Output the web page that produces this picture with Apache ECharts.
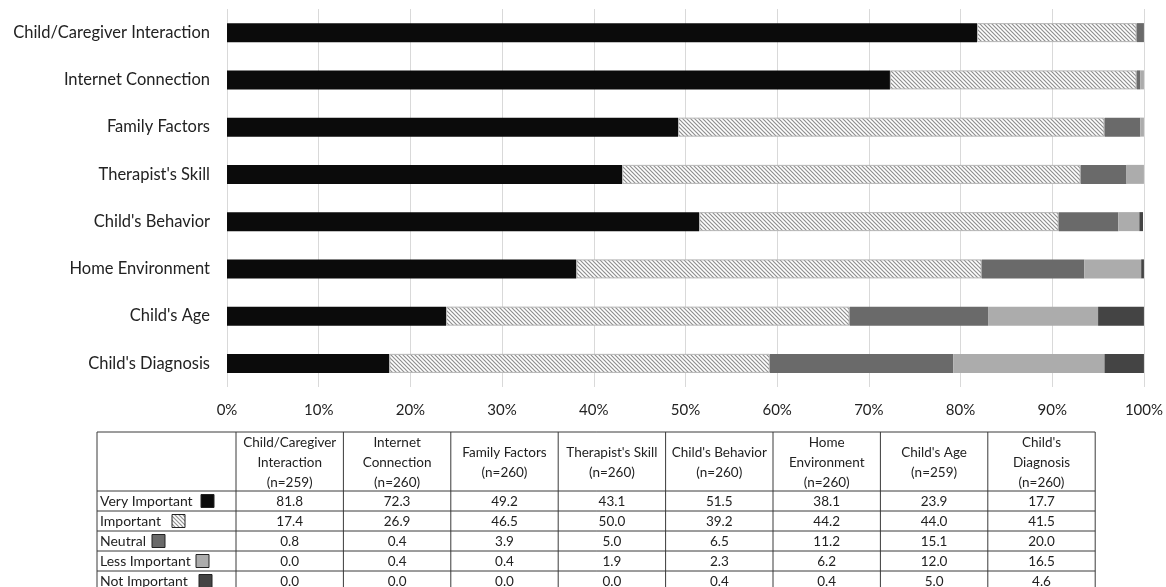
<!DOCTYPE html>
<html>
<head>
<meta charset="utf-8">
<script src="https://cdn.jsdelivr.net/npm/echarts@6/dist/echarts.min.js"></script>
<style>
html,body{margin:0;padding:0;background:#fff;}
#chart{width:1166px;height:587px;}
</style>
</head>
<body>
<div id="chart"></div>
<script>
// ---- data ----
const categories = ["Child/Caregiver Interaction","Internet Connection","Family Factors","Therapist's Skill","Child's Behavior","Home Environment","Child's Age","Child's Diagnosis"];
const tableHeaders = ["Child/Caregiver\nInteraction","Internet\nConnection","Family Factors","Therapist's Skill","Child's Behavior","Home\nEnvironment","Child's Age","Child's\nDiagnosis"];
const sampleSizes = [259,260,260,260,260,260,259,260];
const levels = ["Very Important","Important","Neutral","Less Important","Not Important"];
const veryImportant = [81.8,72.3,49.2,43.1,51.5,38.1,23.9,17.7];
const important     = [17.4,26.9,46.5,50.0,39.2,44.2,44.0,41.5];
const neutral       = [0.8,0.4,3.9,5.0,6.5,11.2,15.1,20.0];
const lessImportant = [0.0,0.4,0.4,1.9,2.3,6.2,12.0,16.5];
const notImportant  = [0.0,0.0,0.0,0.0,0.4,0.4,5.0,4.6];
const xTicks = [0,10,20,30,40,50,60,70,80,90,100];

// ---- styles ----
const FONT = 'Lato, "Open Sans", sans-serif';
function makeHatch(){
  const c = document.createElement('canvas');
  c.width = 4; c.height = 4;
  const g = c.getContext('2d');
  g.fillStyle = '#ffffff'; g.fillRect(0,0,4,4);
  g.strokeStyle = '#8f8f8f'; g.lineWidth = 1.2;
  [[-4,0],[0,0],[4,0]].forEach(([ox,oy])=>{
    g.beginPath(); g.moveTo(ox-1,oy-1); g.lineTo(ox+5,oy+5); g.stroke();
  });
  return c;
}
const hatch = {image: makeHatch(), repeat: 'repeat'};
const fills = ['#0b0b0b', hatch, '#6a6a6a', '#acacac', '#444444'];
const borders = ['#0b0b0b', '#b5b5b5', '#6a6a6a', '#acacac', '#444444'];
const seriesData = [veryImportant, important, neutral, lessImportant, notImportant];

const series = levels.map((name,i)=>({
  name, type:'bar', stack:'total', barWidth: 19,
  data: seriesData[i],
  itemStyle:{color: fills[i], borderColor: borders[i], borderWidth: i===1?1:0},
  emphasis:{disabled:true},
  animation:false
}));

// ---- table (graphic) ----
const T = {top:432, headerH:59, rowH:20, left:97, col0W:139, colW:107.4};
const g = [];
const lineStyle = {stroke:'#3a3a3a', lineWidth:1};
const nRows = levels.length;
const tableBottom = T.top + T.headerH + T.rowH*nRows;
const tableRight = T.left + T.col0W + T.colW*categories.length;
const hy = [T.top, T.top+T.headerH];
for(let r=1;r<=nRows;r++) hy.push(T.top+T.headerH+T.rowH*r);
hy.forEach(y=>g.push({type:'line', shape:{x1:T.left,y1:y,x2:tableRight,y2:y}, style:lineStyle, silent:true}));
const vx = [T.left, T.left+T.col0W];
for(let c=1;c<=categories.length;c++) vx.push(T.left+T.col0W+T.colW*c);
vx.forEach(x=>g.push({type:'line', shape:{x1:x,y1:T.top,x2:x,y2:tableBottom}, style:lineStyle, silent:true}));
tableHeaders.forEach((h,c)=>{
  g.push({type:'text', x:T.left+T.col0W+T.colW*(c+0.5), y:T.top+T.headerH/2+1,
    style:{text:h+'\n(n='+sampleSizes[c]+')', font:'13.5px '+FONT, fill:'#222', align:'center', verticalAlign:'middle', lineHeight:20}, silent:true});
});
levels.forEach((lv,r)=>{
  const yc = T.top+T.headerH+T.rowH*(r+0.5)+0.5;
  g.push({type:'text', x:T.left+3, y:yc, style:{text:lv, font:'14px '+FONT, fill:'#222', align:'left', verticalAlign:'middle'}, silent:true});
  seriesData[r].forEach((v,c)=>{
    g.push({type:'text', x:T.left+T.col0W+T.colW*(c+0.5), y:yc,
      style:{text:v.toFixed(1), font:'13.5px '+FONT, fill:'#222', align:'center', verticalAlign:'middle'}, silent:true});
  });
});
const swX = [201,172,152,196,199];
levels.forEach((lv,r)=>{
  const yc = T.top+T.headerH+T.rowH*(r+0.5);
  g.push({type:'rect', shape:{x:swX[r], y:yc-6.5, width:13, height:13},
    style:{fill: fills[r], stroke:'#222', lineWidth:1}, silent:true});
});

const chart = echarts.init(document.getElementById('chart'), null, {renderer:'canvas'});
chart.setOption({
  animation:false,
  backgroundColor:'#ffffff',
  grid:{left:227, right:21.5, top:9, bottom:200, containLabel:false},
  xAxis:{
    type:'value', min:xTicks[0], max:xTicks[xTicks.length-1], interval:xTicks[1]-xTicks[0],
    axisLabel:{formatter:'{value}%', fontSize:15, color:'#222', fontFamily:FONT, margin:16},
    axisLine:{show:false}, axisTick:{show:false},
    splitLine:{show:true, lineStyle:{color:'#d9d9d9', width:1}}
  },
  yAxis:{
    type:'category', data:categories, inverse:true,
    axisLabel:{fontSize:16.5, color:'#222', fontFamily:FONT, margin:17},
    axisLine:{show:false}, axisTick:{show:false}
  },
  series,
  graphic:{elements:g}
});
</script>
</body>
</html>
